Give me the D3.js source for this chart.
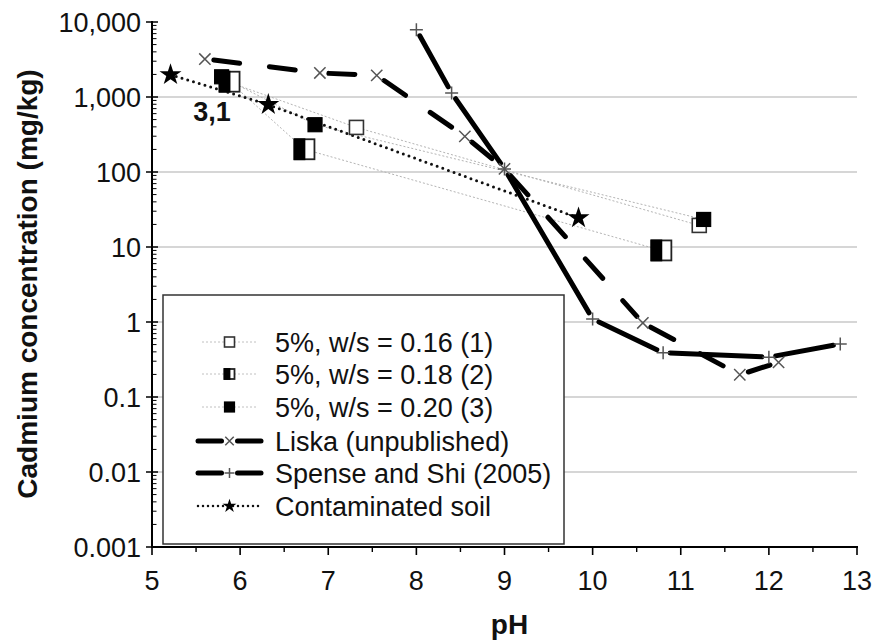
<!DOCTYPE html>
<html><head><meta charset="utf-8">
<script src="https://cdn.jsdelivr.net/npm/d3@7"></script>
<style>body{margin:0;background:#fff} svg{display:block}</style>
</head><body><svg id="c" width="877" height="644"></svg>
<script>
// ---------- data ----------
const xTicks = [5, 6, 7, 8, 9, 10, 11, 12, 13];
const yTicks = [0.001, 0.01, 0.1, 1, 10, 100, 1000, 10000];
const yTickLabels = ["0.001", "0.01", "0.1", "1", "10", "100", "1,000", "10,000"];

const s1pH = [5.89, 7.32, 11.21];
const s1Cd = [1550, 393, 19.4];
const s2pH = [5.88, 6.73, 10.78];
const s2Cd = [1600, 201, 9.0];
const s3pH = [5.79, 6.85, 11.26];
const s3Cd = [1860, 427, 23.3];
const liskaPH = [5.60, 6.905, 7.55, 8.55, 9.0, 10.57, 11.67, 12.11];
const liskaCd = [3210, 2090, 1940, 299, 110, 0.97, 0.198, 0.29];
const spensePH = [8.00, 8.40, 9.0, 10.0, 10.80, 12.0, 12.81];
const spenseCd = [7900, 1130, 110, 1.1, 0.39, 0.34, 0.51];
const soilPH = [5.21, 6.32, 9.84];
const soilCd = [1980, 790, 24.4];

const legendLabels = ["5%, w/s = 0.16 (1)", "5%, w/s = 0.18 (2)", "5%, w/s = 0.20 (3)",
  "Liska (unpublished)", "Spense and Shi (2005)", "Contaminated soil"];
const annotation = "3,1";
const annotationPH = 5.68, annotationCd = 480;

// ---------- setup ----------
const FONT = "'Liberation Sans', Arial, sans-serif";
const svg = d3.select("#c");
const x = d3.scaleLinear().domain([5, 13]).range([152, 857]);
const y = d3.scaleLog().domain([0.001, 10000]).range([547, 22]);
const zip = (a, b) => a.map((v, i) => [v, b[i]]);

// gridlines
svg.append("g").selectAll("line").data(yTicks.filter(v => v > 0.001 && v < 10000)).join("line")
  .attr("x1", x(5)).attr("x2", x(13)).attr("y1", d => y(d)).attr("y2", d => y(d))
  .attr("stroke", "#c8c8c8").attr("stroke-width", 1.6);

// ---------- lines ----------
const line = d3.line().x(d => x(d[0])).y(d => y(d[1]));
const greySeries = [zip(s1pH, s1Cd), zip(s2pH, s2Cd), zip(s3pH, s3Cd)];
greySeries.forEach(s => svg.append("path").attr("d", line(s)).attr("fill", "none")
  .attr("stroke", "#b4b4b4").attr("stroke-width", 1).attr("stroke-dasharray", "2,2"));

// contaminated soil dotted
svg.append("path").attr("d", line(zip(soilPH, soilCd))).attr("fill", "none")
  .attr("stroke", "#111").attr("stroke-width", 3).attr("stroke-linecap", "round")
  .attr("stroke-dasharray", "0,6");

function gapSegments(pts, gap, attrs) {
  for (let i = 0; i < pts.length - 1; i++) {
    const x0 = x(pts[i][0]), y0 = y(pts[i][1]), x1 = x(pts[i + 1][0]), y1 = y(pts[i + 1][1]);
    const L = Math.hypot(x1 - x0, y1 - y0);
    if (L <= 2 * gap) continue;
    const ux = (x1 - x0) / L, uy = (y1 - y0) / L;
    const ln = svg.append("line").attr("x1", x0 + ux * gap).attr("y1", y0 + uy * gap)
      .attr("x2", x1 - ux * gap).attr("y2", y1 - uy * gap);
    Object.entries(attrs).forEach(([k, v]) => ln.attr(k, v));
  }
}
gapSegments(zip(liskaPH, liskaCd), 9, {stroke: "#000", "stroke-width": 5, "stroke-linecap": "round", "stroke-dasharray": "26,30"});
gapSegments(zip(spensePH, spenseCd), 7, {stroke: "#000", "stroke-width": 5, "stroke-linecap": "round"});

// ---------- markers ----------
function square(g, cx, cy, s, kind) {
  if (kind === "open") {
    g.append("rect").attr("x", cx - s / 2).attr("y", cy - s / 2).attr("width", s).attr("height", s)
      .attr("fill", "#fff").attr("stroke", "#333").attr("stroke-width", 1.6);
  } else if (kind === "filled") {
    g.append("rect").attr("x", cx - s / 2).attr("y", cy - s / 2).attr("width", s).attr("height", s)
      .attr("fill", "#000").attr("stroke", "#000").attr("stroke-width", 1.2);
  } else {
    g.append("rect").attr("x", cx - s / 2).attr("y", cy - s / 2).attr("width", s).attr("height", s)
      .attr("fill", "#fff").attr("stroke", "#222").attr("stroke-width", 1.8);
    g.append("rect").attr("x", cx - s / 2).attr("y", cy - s / 2).attr("width", s / 2).attr("height", s)
      .attr("fill", "#000").attr("stroke", "#000").attr("stroke-width", 1.8);
  }
}
const mk = svg.append("g");
zip(s1pH, s1Cd).forEach(d => square(mk, x(d[0]), y(d[1]), 14, "open"));
zip(s2pH, s2Cd).forEach(d => square(mk, x(d[0]), y(d[1]), 20, "half"));
zip(s3pH, s3Cd).forEach(d => square(mk, x(d[0]), y(d[1]), 14, "filled"));

function cross(g, cx, cy, r, rot) {
  g.append("path").attr("fill", "none").attr("stroke", "#555").attr("stroke-width", 1.5)
    .attr("transform", `translate(${cx},${cy}) rotate(${rot})`)
    .attr("d", `M${-r},0H${r}M0,${-r}V${r}`);
}
zip(liskaPH, liskaCd).forEach(d => cross(mk, x(d[0]), y(d[1]), 8, 45));
zip(spensePH, spenseCd).forEach(d => cross(mk, x(d[0]), y(d[1]), 6.5, 0));

const star = d3.symbol().type(d3.symbolStar).size(150);
zip(soilPH, soilCd).forEach(d => mk.append("path").attr("d", star())
  .attr("transform", `translate(${x(d[0])},${y(d[1])})`).attr("fill", "#000"));

svg.append("text").attr("x", x(annotationPH)).attr("y", y(annotationCd)).attr("text-anchor", "middle")
  .attr("font-family", FONT).attr("font-weight", "bold").attr("font-size", 27).attr("fill", "#111").text(annotation);

// ---------- axes ----------
const ax = svg.append("g").attr("stroke", "#000");
ax.append("line").attr("x1", 152).attr("x2", 152).attr("y1", y(10000) - 1).attr("y2", 548).attr("stroke-width", 2);
ax.append("line").attr("x1", 151).attr("x2", x(13) + 1).attr("y1", 547).attr("y2", 547).attr("stroke-width", 2);
yTicks.forEach(v => ax.append("line").attr("x1", 146).attr("x2", 158).attr("y1", y(v)).attr("y2", y(v)).attr("stroke-width", 1.5));
const minors = [];
yTicks.slice(0, -1).forEach(v => { for (let k = 2; k <= 9; k++) minors.push(v * k); });
minors.forEach(v => ax.append("line").attr("x1", 152).attr("x2", 156.5).attr("y1", y(v)).attr("y2", y(v)).attr("stroke-width", 1));
xTicks.forEach(v => ax.append("line").attr("x1", x(v)).attr("x2", x(v)).attr("y1", 547).attr("y2", 555).attr("stroke-width", 1.6));
xTicks.slice(0, -1).forEach(v => ax.append("line").attr("x1", x(v + 0.5)).attr("x2", x(v + 0.5)).attr("y1", 547).attr("y2", 552).attr("stroke-width", 1.4));

svg.append("g").selectAll("text").data(yTicks).join("text")
  .attr("x", 141).attr("y", d => y(d)).attr("dy", "0.36em").attr("text-anchor", "end")
  .attr("font-family", FONT).attr("font-size", 27).attr("fill", "#111")
  .text((d, i) => yTickLabels[i]);
svg.append("g").selectAll("text").data(xTicks).join("text")
  .attr("x", d => x(d)).attr("y", 590).attr("text-anchor", "middle")
  .attr("font-family", FONT).attr("font-size", 27).attr("fill", "#111").text(d => d);

svg.append("text").attr("x", x(9) + 5).attr("y", 634).attr("text-anchor", "middle")
  .attr("font-family", FONT).attr("font-weight", "bold").attr("font-size", 28).attr("fill", "#111").text("pH");
svg.append("text").attr("transform", `translate(37,284) rotate(-90)`).attr("text-anchor", "middle")
  .attr("font-family", FONT).attr("font-weight", "bold").attr("font-size", 28).attr("fill", "#111").text("Cadmium concentration (mg/kg)");

// ---------- legend ----------
const lg = svg.append("g");
lg.append("rect").attr("x", 163).attr("y", 295).attr("width", 401).attr("height", 249)
  .attr("fill", "#fff").attr("stroke", "#333").attr("stroke-width", 1.5);
const rowY = [342, 374, 407, 441, 473, 506];
const lx0 = 198, lx1 = 261, lxm = 229.5;
legendLabels.forEach((t, i) => {
  const yy = rowY[i];
  if (i < 3) {
    lg.append("line").attr("x1", lx0 + 4).attr("x2", lx1 - 4).attr("y1", yy).attr("y2", yy)
      .attr("stroke", "#c0c0c0").attr("stroke-width", 1).attr("stroke-dasharray", "2,2");
    square(lg, lxm, yy, 10, ["open", "half", "filled"][i]);
  } else if (i < 5) {
    lg.append("line").attr("x1", lx0).attr("x2", lxm - 8).attr("y1", yy).attr("y2", yy)
      .attr("stroke", "#000").attr("stroke-width", 5).attr("stroke-linecap", "round");
    lg.append("line").attr("x1", lxm + 8).attr("x2", lx1).attr("y1", yy).attr("y2", yy)
      .attr("stroke", "#000").attr("stroke-width", 5).attr("stroke-linecap", "round");
    cross(lg, lxm, yy, i === 3 ? 6 : 5, i === 3 ? 45 : 0);
  } else {
    lg.append("line").attr("x1", lx0).attr("x2", lx1).attr("y1", yy).attr("y2", yy)
      .attr("stroke", "#111").attr("stroke-width", 2.5).attr("stroke-linecap", "round").attr("stroke-dasharray", "0,5");
    lg.append("path").attr("d", d3.symbol().type(d3.symbolStar).size(60)())
      .attr("transform", `translate(${lxm},${yy})`).attr("fill", "#000");
  }
  lg.append("text").attr("x", 275).attr("y", yy).attr("dy", "0.36em")
    .attr("font-family", FONT).attr("font-size", 27).attr("fill", "#111").text(t);
});
</script></body></html>
